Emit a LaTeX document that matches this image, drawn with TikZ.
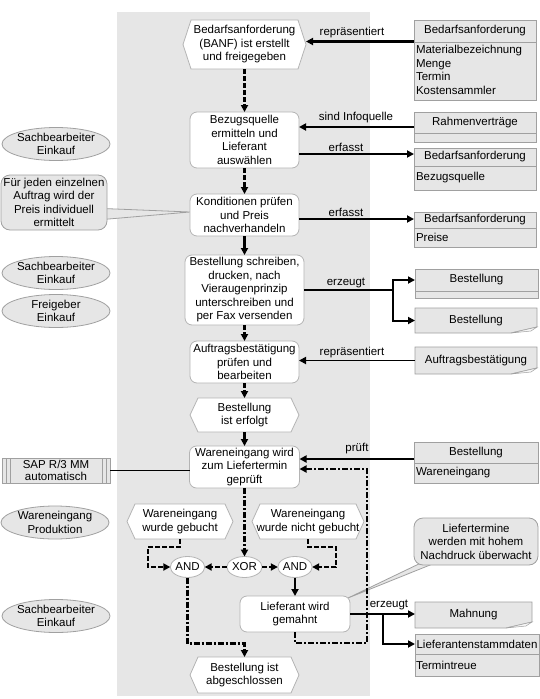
\documentclass[tikz,border=0pt]{standalone}
\usepackage{fontspec}
\setmainfont{Liberation Sans}
\usetikzlibrary{arrows.meta,backgrounds,shapes.geometric}
\definecolor{lanegray}{HTML}{E6E6E6}
\definecolor{fbord}{HTML}{B4B4B4}
\definecolor{ifill}{HTML}{E6E6E6}
\definecolor{ibord}{HTML}{A0A0A0}
\definecolor{curl}{HTML}{F6F6F6}
\newcommand\evshape[1]{\draw[draw=fbord,fill=white,line width=0.8pt] ([xshift=8pt]#1.north west) -- ([xshift=-8pt]#1.north east) -- (#1.east) -- ([xshift=-8pt]#1.south east) -- ([xshift=8pt]#1.south west) -- (#1.west) -- cycle;}
\newcommand\ellshape[1]{\draw[draw=ibord,fill=ifill,line width=0.8pt] (#1.center) ellipse [x radius=54pt, y radius=16.5pt];}
\newcommand\docshape[1]{\draw[draw=ibord,fill=ifill,line width=0.8pt] (#1.north west) -- (#1.north east) -- ([yshift=6pt]#1.south east) -- ([xshift=-26pt]#1.south east) -- (#1.south west) -- cycle;
 \draw[draw=ibord,fill=curl,line width=0.5pt] ([xshift=-26pt]#1.south east) -- ([xshift=-6pt,yshift=2pt]#1.south east) -- ([yshift=6pt]#1.south east) -- cycle;}
\begin{document}
\begin{tikzpicture}[x=1pt,y=-1pt,
  every node/.style={font=\fontsize{11.5}{13.5}\selectfont, inner sep=0pt, outer sep=0pt},
  >={Triangle[length=7pt,width=7pt]},
  func/.style={draw=fbord, fill=white, line width=0.8pt, rounded corners=7pt, align=center},
  evt/.style={align=center},
  ibox/.style={draw=ibord, fill=ifill, line width=0.8pt},
  txt/.style={align=center},
  opn/.style={ellipse, draw=fbord, fill=white, line width=0.8pt, minimum width=34pt, minimum height=21pt},
  cbox/.style={draw=ibord, fill=ifill, line width=0.8pt, rounded corners=9pt, align=center},
  cf/.style={line width=2.4pt, ->},
  cfd/.style={cf, dash pattern=on 5pt off 2pt},
  cfdd/.style={cf, dash pattern=on 6pt off 2pt on 2pt off 2pt},
  inf/.style={line width=2.4pt},
  infa/.style={inf, ->},
  divl/.style={draw=ibord, line width=0.8pt}]
\useasboundingbox (0,0) rectangle (540,699);
\begin{scope}[on background layer]
\fill[lanegray] (117,12) rectangle (370,696);
\end{scope}

% ---- central process column
\node[evt, minimum width=123pt, minimum height=49pt] (banf) at (244.5,44.5) {Bedarfsanforderung\\(BANF) ist erstellt\\und freigegeben};
\node[func, minimum width=109pt, minimum height=56pt] (bezug) at (244.5,140) {Bezugsquelle\\ermitteln und\\Lieferant\\auswählen};
\node[func, minimum width=109pt, minimum height=42pt] (kond) at (244.5,215) {Konditionen prüfen\\und Preis\\nachverhandeln};
\node[func, minimum width=119pt, minimum height=70pt] (best) at (244.5,290) {Bestellung schreiben,\\drucken, nach\\Vieraugenprinzip\\unterschreiben und\\per Fax versenden};
\node[func, minimum width=109pt, minimum height=42pt] (auf) at (244.5,362) {Auftragsbestätigung\\prüfen und\\bearbeiten};
\node[evt, minimum width=109pt, minimum height=34pt] (erf) at (244.5,415) {Bestellung\\ist erfolgt};
\node[func, minimum width=110pt, minimum height=42pt] (we) at (244.5,467) {Wareneingang wird\\zum Liefertermin\\geprüft};
\node[evt, minimum width=106pt, minimum height=35pt] (gb) at (180,521.5) {Wareneingang\\wurde gebucht};
\node[evt, minimum width=112pt, minimum height=35pt] (ngb) at (308,521.5) {Wareneingang\\wurde nicht gebucht};
\node[opn] (andl) at (187.5,567) {AND};
\node[opn] (xor) at (244.5,567) {XOR};
\node[opn] (andr) at (295,567) {AND};
\node[func, minimum width=110pt, minimum height=36pt] (lief) at (295,614) {Lieferant wird\\gemahnt};
\node[evt, minimum width=109pt, minimum height=36pt] (abg) at (244.5,675) {Bestellung ist\\abgeschlossen};

% ---- left column
\node[txt] (sb1) at (56,144) {Sachbearbeiter\\Einkauf};
\node[cbox, minimum width=106pt, minimum height=55pt] (cal1) at (54,202.5) {Für jeden einzelnen\\Auftrag wird der\\Preis individuell\\ermittelt};
\node[txt] (sb2) at (56,273) {Sachbearbeiter\\Einkauf};
\node[txt] (frei) at (56,311) {Freigeber\\Einkauf};
\node[ibox, minimum width=108pt, minimum height=25pt, align=center, font=\fontsize{11.5}{12}\selectfont] (sap) at (56,470.5) {SAP R/3 MM\\automatisch};
\node[txt] (wep) at (55,522.5) {Wareneingang\\Produktion};
\node[txt] (sb3) at (56,616) {Sachbearbeiter\\Einkauf};

% ---- right column
\node[ibox, minimum width=122pt, minimum height=80pt] (ba1) at (475,60) {};
\node (ba1h) at (475,31) {Bedarfsanforderung};
\node[anchor=west, align=left] (ba1b) at (416,70) {Materialbezeichnung\\Menge\\Termin\\Kostensammler};
\node[ibox, minimum width=122pt, minimum height=30pt] (rahmen) at (475,127) {};
\node (rahmenh) at (475,122.5) {Rahmenverträge};
\node[ibox, minimum width=122pt, minimum height=42pt] (ba2) at (475,169) {};
\node (ba2h) at (475,157) {Bedarfsanforderung};
\node[anchor=west] (ba2b) at (416,178) {Bezugsquelle};
\node[ibox, minimum width=122pt, minimum height=35pt] (ba3) at (475,229.5) {};
\node (ba3h) at (475,220) {Bedarfsanforderung};
\node[anchor=west] (ba3b) at (416,237.5) {Preise};
\node[ibox, minimum width=123pt, minimum height=29pt] (bst1) at (476.5,283.5) {};
\node (bst1h) at (476.5,280) {Bestellung};
\node[minimum width=122pt, minimum height=25pt] (bst2) at (476,320.5) {Bestellung};
\node[minimum width=122pt, minimum height=27pt] (ab) at (476,360.5) {Auftragsbestätigung};
\node[ibox, minimum width=124pt, minimum height=41pt] (bw) at (476,462.5) {};
\node (bwh) at (476,452.5) {Bestellung};
\node[anchor=west] (bwb) at (416,473) {Wareneingang};
\node[cbox, minimum width=124pt, minimum height=47pt] (cal2) at (476,541.5) {Liefertermine\\werden mit hohem\\Nachdruck überwacht};
\node[minimum width=117pt, minimum height=26pt] (mahn) at (473.5,615) {Mahnung};
\node[ibox, minimum width=124pt, minimum height=42pt] (lsd) at (477,655) {};
\node (lsdh) at (477,644) {Lieferantenstammdaten};
\node[anchor=west] (lsdb) at (416,665) {Termintreue};

% dividers in information objects
\draw[divl] (ba1.west |- 0,42) -- (ba1.east |- 0,42);
\draw[divl] (rahmen.west |- 0,133) -- (rahmen.east |- 0,133);
\draw[divl] (ba2.west |- 0,166) -- (ba2.east |- 0,166);
\draw[divl] (ba3.west |- 0,228) -- (ba3.east |- 0,228);
\draw[divl] (bst1.west |- 0,291) -- (bst1.east |- 0,291);
\draw[divl] (bw.west |- 0,463) -- (bw.east |- 0,463);
\draw[divl] (lsd.west |- 0,654) -- (lsd.east |- 0,654);
% application system side bars
\draw[ibord, line width=0.6pt] ([xshift=4pt]sap.north west) -- ([xshift=4pt]sap.south west);
\draw[ibord, line width=0.6pt] ([xshift=8pt]sap.north west) -- ([xshift=8pt]sap.south west);
\draw[ibord, line width=0.6pt] ([xshift=-4pt]sap.north east) -- ([xshift=-4pt]sap.south east);
\draw[ibord, line width=0.6pt] ([xshift=-8pt]sap.north east) -- ([xshift=-8pt]sap.south east);

% ---- shapes behind nodes
\begin{scope}[on background layer]
\evshape{banf}
\evshape{erf}
\evshape{gb}
\evshape{ngb}
\evshape{abg}
\ellshape{sb1}
\ellshape{sb2}
\ellshape{frei}
\ellshape{wep}
\ellshape{sb3}
\docshape{bst2}
\docshape{ab}
\docshape{mahn}
\draw[draw=ibord, fill=ifill, line width=0.8pt] ([xshift=-4pt,yshift=-6pt]cal1.east) -- ([yshift=3pt]kond.west) -- ([xshift=-4pt,yshift=-17pt]cal1.east) -- cycle;
\draw[draw=ibord, fill=ifill, line width=0.8pt] ([xshift=-51pt,yshift=4pt]cal2.south) -- ([xshift=-2pt,yshift=-2pt]lief.north east) -- ([xshift=-36pt,yshift=4pt]cal2.south) -- cycle;
\end{scope}

% ---- control flow
\draw[cfd] (banf.south) -- (bezug.north);
\draw[cfd] (bezug.south) -- (kond.north);
\draw[cf] (kond.south) -- (best.north);
\draw[cfd] (best.south) -- (auf.north);
\draw[cfd] (auf.south) -- (erf.north);
\draw[cf] (erf.south) -- (we.north);
\draw[cfdd] (we.south) -- (xor.north);
\draw[cfd] (xor.west) -- (andl.east);
\draw[cfd] (xor.east) -- (andr.west);
\draw[cfd] (gb.south) |- ++(-32,8) |- (andl.west);
\draw[cfd] (ngb.south) |- ++(28,8) |- (andr.east);
\draw[cf] (andr.south) -- (lief.north);
\draw[cfdd] (andl.south) -- ++(0,66) -| (abg.north);
\coordinate (lp) at (367,643);
\draw[cfdd] (lief.south) |- (lp) |- ([yshift=-2pt]we.east);

% ---- information flows
\coordinate (ca) at ([yshift=3pt]banf.east);
\draw[infa] (ba1.west |- ca) -- (ca);
\draw[infa] (rahmen.west) -- (bezug.east |- rahmen.west);
\coordinate (cc) at ([yshift=-14pt]bezug.east);
\draw[infa] (cc) -- (ba2.west |- cc);
\coordinate (cd) at ([yshift=-4pt]kond.east);
\draw[infa] (cd) -- (ba3.west |- cd);
\coordinate (f1) at (393,290);
\draw[infa, line width=2pt] (best.east) -- (f1) |- (bst1.west |- bst1h);
\draw[infa, line width=2pt] (f1) |- (bst2.west);
\draw[infa, line width=1.8pt] (ab.west) -- (auf.east |- ab.west);
\coordinate (cg) at ([yshift=8pt]we.east);
\draw[infa] (bw.west |- cg) -- (cg);
\draw[line width=1pt] (sap.east) -- (we.west |- sap.east);
\draw[infa, line width=2pt] (lief.east) -- (mahn.west |- lief.east);
\coordinate (f2) at (383,614);
\draw[infa, line width=2pt] (f2) |- (lsd.west |- lsdh);

% ---- labels
\node (l1) at (352,33) {repräsentiert};
\node (l2) at (356,118) {sind Infoquelle};
\node (l3) at (346,147) {erfasst};
\node (l4) at (346,212) {erfasst};
\node (l5) at (346,283) {erzeugt};
\node (l6) at (352,353) {repräsentiert};
\node (l7) at (357,449) {prüft};
\node (l8) at (389,605) {erzeugt};
\end{tikzpicture}
\end{document}
